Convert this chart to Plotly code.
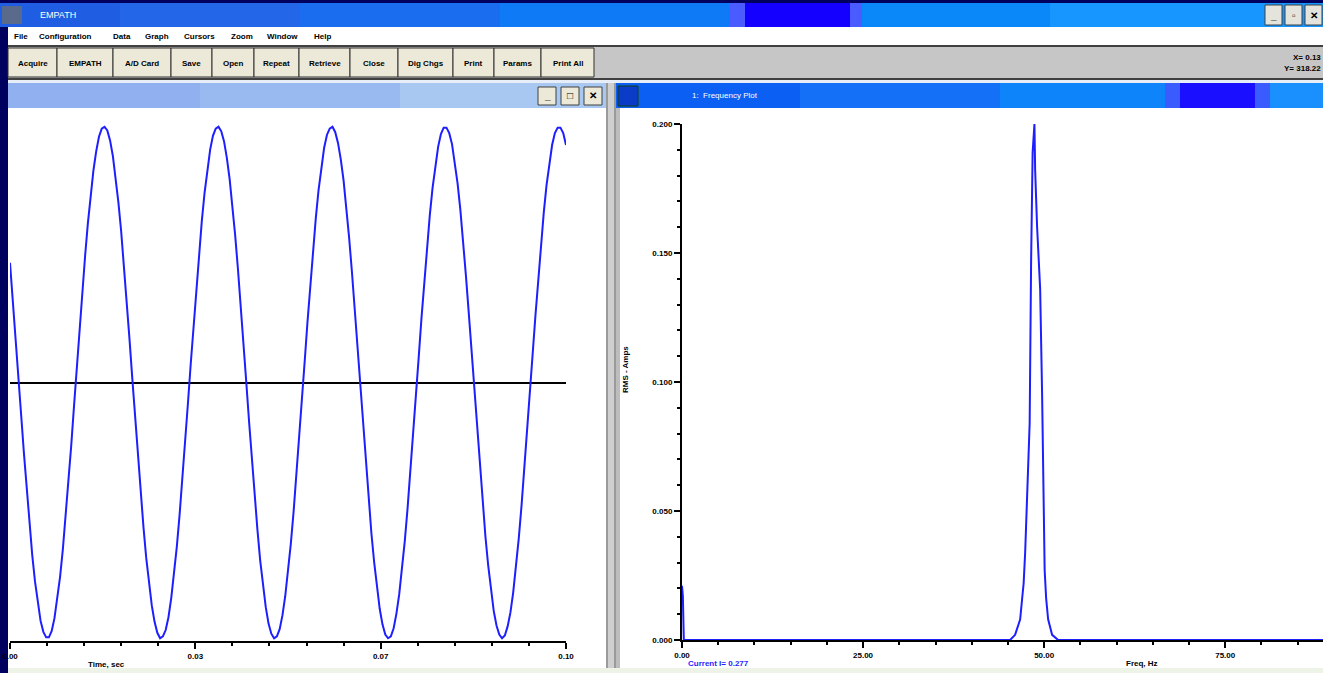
import plotly.graph_objects as go

W, H = 1323, 673

# ---------------------------------------------------------------- data
# Sampled line current (mA), one sample every 0.5 ms
sample_interval_s = 0.0005
current_ma = [
    131, 92, 51, 8, -35, -77, -117, -155, -189, -218,
    -242, -261, -273, -279, -279, -272, -258, -238, -213, -183,
    -148, -110, -70, -27, 16, 58, 99, 138, 174, 205,
    232, 253, 269, 278, 280, 276, 265, 248, 225, 197,
    165, 128, 88, 47, 4, -39, -81, -121, -158, -192,
    -221, -244, -262, -274, -280, -278, -271, -257, -236, -211,
    -180, -145, -107, -66, -23, 20, 62, 103, 142, 177,
    208, 234, 255, 270, 278, 280, 275, 264, 246, 223,
    195, 161, 124, 85, 43, 0, -43, -85, -124, -161,
    -195, -223, -246, -264, -275, -280, -278, -270, -255, -234,
    -208, -177, -142, -103, -62, -20, 23, 66, 107, 145,
    180, 211, 236, 257, 271, 278, 280, 274, 262, 244,
    221, 192, 158, 121, 81, 39, -4, -47, -88, -128,
    -165, -197, -225, -248, -265, -276, -280, -278, -269, -253,
    -232, -205, -174, -138, -99, -58, -16, 27, 70, 110,
    148, 183, 213, 238, 258, 272, 279, 279, 273, 261,
    242, 218, 189, 155, 117, 77, 35, -8, -51, -92,
    -131, -168, -200, -228, -250, -266, -276, -280, -277, -267,
    -252, -230, -203, -171, -135, -96, -54, -12, 31, 73,
    114, 152, 186, 216, 241, 260, 273, 279, 279, 273, 260,
]
time_s = [i * sample_interval_s for i in range(len(current_ma))]

# RMS spectrum of the current
spectrum_freq_hz = [0.00, 0.12, 0.25, 45.30, 45.99, 46.69, 46.96, 47.17, 47.38,
                    47.65, 48.00, 48.20, 48.41, 48.66, 48.76, 49.03, 49.45,
                    49.72, 49.93, 50.07, 50.28, 50.55, 51.10, 51.93, 88.50]
spectrum_rms_a = [0.021, 0.017, 0.000, 0.000, 0.002, 0.008, 0.016, 0.022, 0.034,
                  0.057, 0.084, 0.147, 0.189, 0.200, 0.182, 0.160, 0.136,
                  0.095, 0.045, 0.027, 0.016, 0.008, 0.002, 0.000, 0.000]

time_ticks = [0.0, 1 / 30, 2 / 30, 0.1]
time_tick_labels = ["0.00", "0.03", "0.07", "0.10"]
freq_ticks = [0, 25, 50, 75]
freq_tick_labels = ["0.00", "25.00", "50.00", "75.00"]
rms_ticks = [0.0, 0.05, 0.10, 0.15, 0.20]
rms_tick_labels = ["0.000", "0.050", "0.100", "0.150", "0.200"]

menu_items = ["File", "Configuration", "Data", "Graph", "Cursors", "Zoom", "Window", "Help"]
toolbar_buttons = ["Acquire", "EMPATH", "A/D Card", "Save", "Open", "Repeat",
                   "Retrieve", "Close", "Dig Chgs", "Print", "Params", "Print All"]

# ---------------------------------------------------------------- layout helpers
menu_x = [12, 37, 111, 143, 182, 229, 265, 312]
button_edges = [8, 57, 113, 171, 212, 254, 299, 350, 398, 453, 494, 541, 594]

FONT = "Liberation Sans"
shapes = []
annotations = []


def px(x):
    return x / W


def py(y):
    return 1 - y / H


def rect(x0, y0, x1, y1, fill, line=None, lw=0):
    shapes.append(dict(type="rect", xref="paper", yref="paper",
                       x0=px(x0), x1=px(x1), y0=py(y1), y1=py(y0),
                       fillcolor=fill, layer="below",
                       line=dict(width=lw, color=line or fill)))


def text(x, y, s, size=8, color="black", xanchor="left", angle=0, bold=True):
    annotations.append(dict(x=px(x), y=py(y), xref="paper", yref="paper",
                            text=s, showarrow=False, xanchor=xanchor,
                            yanchor="middle", textangle=angle,
                            font=dict(family=FONT, size=size, color=color,
                                      weight="bold" if bold else "normal")))


# window frame -------------------------------------------------------------
rect(0, 0, W, H, "#00005e")
# application title bar
for x0, x1, c in [(0, 120, "#1f5ee2"), (120, 300, "#2466e8"), (300, 500, "#1a6dee"),
                  (500, 730, "#0e7af6"), (730, 745, "#4a5cff"), (745, 850, "#1400ff"),
                  (850, 862, "#4a5cff"), (862, 1050, "#0a88fa"), (1050, W, "#1896ff")]:
    rect(x0, 3, x1, 27, c)
rect(2, 6, 22, 24, "#5a6a8a")
text(38, 15, "EMPATH", size=9, color="white", bold=False)
for i, g in enumerate(["_", "▫", "✕"]):
    rect(1265 + i * 20, 5, 1282 + i * 20, 25, "#e4e4dc", "#404040", 1)
    text(1273.5 + i * 20, 15, g, size=10, xanchor="center")

# menu bar
rect(8, 27, W, 45, "white")
for s, x in zip(menu_items, menu_x):
    text(x, 36, s)

# toolbar
rect(8, 45, W, 80, "#c6c6c6")
rect(8, 45, W, 47, "#404040")
rect(8, 78, W, 80, "#404040")
for s, x0, x1 in zip(toolbar_buttons, button_edges[:-1], button_edges[1:]):
    rect(x0, 48, x1, 77, "#ece9d8", "#303030", 1)
    text((x0 + x1) / 2, 63, s, xanchor="center")
text(1323, 57, "X= 0.13", xanchor="right")
text(1323, 69, "Y= 318.22", xanchor="right")
rect(8, 80, W, 83, "#e8eef8")

# child window title bars
for x0, x1, c in [(8, 200, "#90b0f0"), (200, 400, "#98baf0"), (400, 607, "#a8c8f2")]:
    rect(x0, 83, x1, 108, c)
for i, g in enumerate(["_", "□", "✕"]):
    rect(538 + i * 23, 87, 556 + i * 23, 105, "#ece9d8", "#404040", 1)
    text(547 + i * 23, 96, g, size=10, xanchor="center")
for x0, x1, c in [(615, 800, "#0b5ff2"), (800, 1000, "#1470f6"), (1000, 1165, "#0e84fa"),
                  (1165, 1180, "#3a5cff"), (1180, 1255, "#1a10ff"),
                  (1255, 1270, "#3a5cff"), (1270, W, "#1a90ff")]:
    rect(x0, 83, x1, 108, c)
rect(618, 86, 638, 106, "#0a3cc8", "#104010", 1)
text(690, 96, "1:  Frequency Plot", size=8, color="white", bold=False)

# child window client areas
rect(8, 108, 607, H, "white")
rect(606, 83, 616, H, "#9a9a9a")
rect(608, 83, 614, H, "#cfcfcf")
rect(616, 108, W, H, "white")
rect(616, 108, 620, H, "#bdbdbd")
rect(8, 668, W, H, "#eef3e8")

# axis captions
text(86, 664, "Time, sec")
text(1124, 663, "Freq, Hz")
text(625, 370, "RMS - Amps", angle=-90, xanchor="center")
text(686, 663, "Current I= 0.277", color="#1f1fff")

# ---------------------------------------------------------------- figure
fig = go.Figure()
fig.add_trace(go.Scatter(x=time_s, y=current_ma, mode="lines",
                         line=dict(color="#1e1eff", width=2),
                         xaxis="x", yaxis="y", hoverinfo="skip"))
fig.add_trace(go.Scatter(x=spectrum_freq_hz, y=spectrum_rms_a, mode="lines",
                         line=dict(color="#1e1eff", width=2),
                         xaxis="x2", yaxis="y2", hoverinfo="skip"))

tickfont = dict(family=FONT, size=8, color="black", weight="bold")
common = dict(showgrid=False, showline=True, linecolor="black", linewidth=2,
              ticks="outside", tickcolor="black", tickwidth=1.5, ticklen=6,
              tickfont=tickfont, fixedrange=True, zeroline=False,
              automargin=False)

fig.update_layout(
    width=W, height=H, autosize=False,
    margin=dict(l=0, r=0, t=0, b=0, pad=0),
    paper_bgcolor="#00005e", plot_bgcolor="white",
    showlegend=False,
    shapes=shapes, annotations=annotations,
    xaxis=dict(domain=[px(10), px(566)], range=[0, 0.1], anchor="y",
               tickmode="array", tickvals=time_ticks, ticktext=time_tick_labels,
               minor=dict(tickmode="linear", tick0=0, dtick=0.1 / 15,
                          ticks="outside", ticklen=3, tickcolor="black",
                          tickwidth=1.5, showgrid=False),
               **common),
    yaxis=dict(domain=[py(641), py(124)], range=[-283, 283], anchor="x",
               showgrid=False, showline=False, ticks="", showticklabels=False,
               zeroline=True, zerolinecolor="black", zerolinewidth=1.5,
               fixedrange=True, automargin=False),
    xaxis2=dict(domain=[px(682), 1.0], range=[0, 88.5], anchor="y2",
                tickmode="array", tickvals=freq_ticks, ticktext=freq_tick_labels,
                minor=dict(tickmode="linear", tick0=0, dtick=5,
                           ticks="outside", ticklen=3, tickcolor="black",
                           tickwidth=1.5, showgrid=False),
                layer="above traces", **common),
    yaxis2=dict(domain=[py(640), py(124)], range=[0, 0.2], anchor="x2",
                tickmode="array", tickvals=rms_ticks, ticktext=rms_tick_labels,
                minor=dict(tickmode="linear", tick0=0, dtick=0.01,
                           ticks="outside", ticklen=3, tickcolor="black",
                           tickwidth=1.5, showgrid=False),
                **common),
)

fig.write_html("out.html")
